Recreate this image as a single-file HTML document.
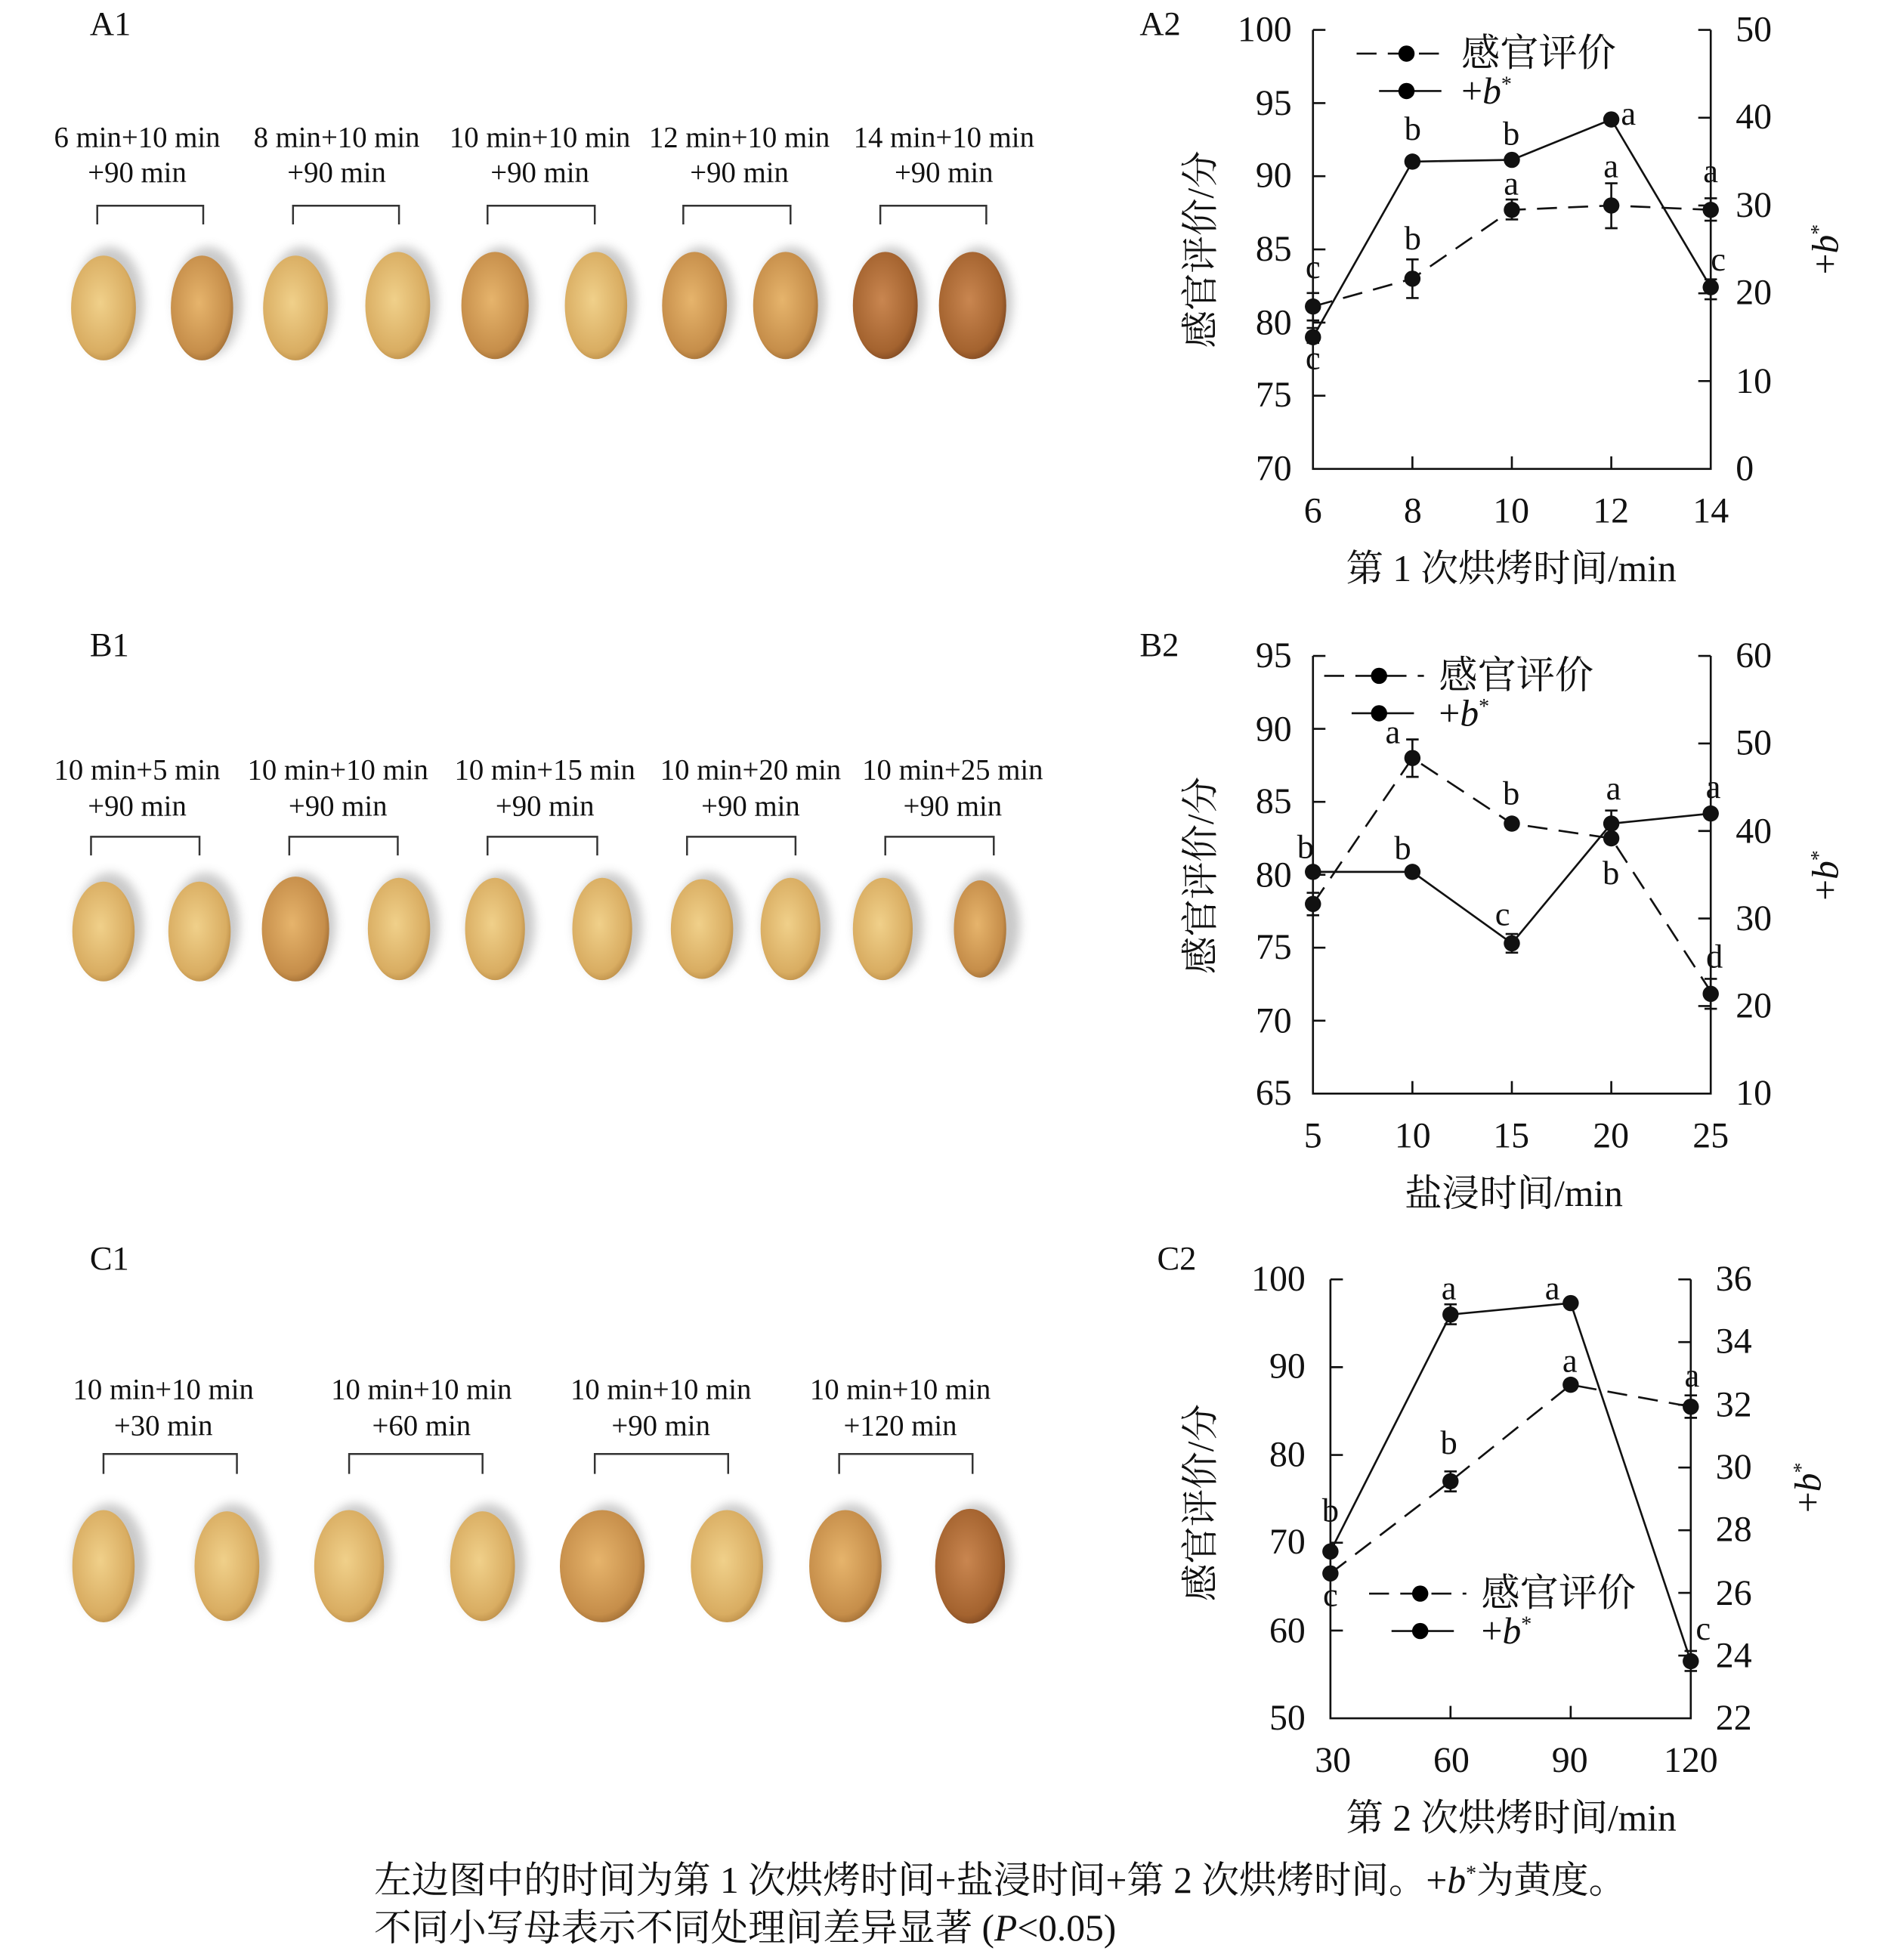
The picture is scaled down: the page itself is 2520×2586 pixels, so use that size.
<!DOCTYPE html>
<html><head><meta charset="utf-8"><style>
html,body{margin:0;padding:0;background:#fff}
svg{display:block}
text{font-family:"Liberation Serif","Noto Serif CJK SC",serif;fill:#111}
</style></head><body>
<svg width="2520" height="2586" viewBox="0 0 1527 1567" preserveAspectRatio="none" xmlns="http://www.w3.org/2000/svg">
<defs>
<radialGradient id="w1" cx="45%" cy="45%" r="60%"><stop offset="0" stop-color="#f0d08a"/><stop offset="0.8" stop-color="#d9ad62"/><stop offset="1" stop-color="#b88a45"/></radialGradient>
<radialGradient id="w2" cx="45%" cy="45%" r="60%"><stop offset="0" stop-color="#e6b46c"/><stop offset="0.8" stop-color="#c68e4a"/><stop offset="1" stop-color="#9c6a32"/></radialGradient>
<radialGradient id="w3" cx="45%" cy="45%" r="60%"><stop offset="0" stop-color="#c98650"/><stop offset="0.8" stop-color="#a4632f"/><stop offset="1" stop-color="#7a4520"/></radialGradient>
<filter id="sh"><feGaussianBlur stdDeviation="4"/></filter>
</defs>

<g font-size="27"><text x="72" y="28">A1</text><text x="72" y="526">B1</text><text x="72" y="1018">C1</text>
<text x="914" y="28">A2</text><text x="914" y="526">B2</text><text x="928" y="1018">C2</text></g>

<g font-size="23.5" text-anchor="middle">
<text x="110" y="118">6 min+10 min</text><text x="110" y="146">+90 min</text>
<text x="270" y="118">8 min+10 min</text><text x="270" y="146">+90 min</text>
<text x="433" y="118">10 min+10 min</text><text x="433" y="146">+90 min</text>
<text x="593" y="118">12 min+10 min</text><text x="593" y="146">+90 min</text>
<text x="757" y="118">14 min+10 min</text><text x="757" y="146">+90 min</text>
</g>
<g fill="none" stroke="#333" stroke-width="1.5">
<path d="M78 180V165H163V180M235 180V165H320V180M391 180V165H477V180M548 180V165H634V180M706 180V165H791V180"/>
<path d="M73 686V671H160V686M232 686V671H319V686M391 686V671H479V686M551 686V671H638V686M710 686V671H797V686"/>
<path d="M83 1182V1166H190V1182M280 1182V1166H387V1182M477 1182V1166H584V1182M673 1182V1166H780V1182"/>
</g>
<g font-size="23.5" text-anchor="middle">
<text x="110" y="625">10 min+5 min</text><text x="110" y="654">+90 min</text>
<text x="271" y="625">10 min+10 min</text><text x="271" y="654">+90 min</text>
<text x="437" y="625">10 min+15 min</text><text x="437" y="654">+90 min</text>
<text x="602" y="625">10 min+20 min</text><text x="602" y="654">+90 min</text>
<text x="764" y="625">10 min+25 min</text><text x="764" y="654">+90 min</text>
<text x="131" y="1122">10 min+10 min</text><text x="131" y="1151">+30 min</text>
<text x="338" y="1122">10 min+10 min</text><text x="338" y="1151">+60 min</text>
<text x="530" y="1122">10 min+10 min</text><text x="530" y="1151">+90 min</text>
<text x="722" y="1122">10 min+10 min</text><text x="722" y="1151">+120 min</text>
</g>
<g>
<g fill="#888" opacity="0.45" filter="url(#sh)">
<ellipse cx="88" cy="242" rx="27" ry="44"/><ellipse cx="167" cy="242" rx="27" ry="44"/><ellipse cx="242" cy="242" rx="27" ry="44"/><ellipse cx="324" cy="242" rx="27" ry="44"/><ellipse cx="402" cy="242" rx="27" ry="44"/><ellipse cx="483" cy="242" rx="27" ry="44"/><ellipse cx="562" cy="242" rx="27" ry="44"/><ellipse cx="635" cy="242" rx="27" ry="44"/><ellipse cx="715" cy="242" rx="27" ry="44"/><ellipse cx="785" cy="242" rx="27" ry="44"/>
<ellipse cx="88" cy="742" rx="27" ry="42"/><ellipse cx="165" cy="742" rx="27" ry="42"/><ellipse cx="242" cy="742" rx="27" ry="42"/><ellipse cx="325" cy="742" rx="27" ry="42"/><ellipse cx="402" cy="742" rx="27" ry="42"/><ellipse cx="488" cy="742" rx="27" ry="42"/><ellipse cx="568" cy="742" rx="27" ry="42"/><ellipse cx="639" cy="742" rx="27" ry="42"/><ellipse cx="713" cy="742" rx="27" ry="42"/><ellipse cx="791" cy="742" rx="27" ry="42"/>
<ellipse cx="88" cy="1252" rx="29" ry="46"/><ellipse cx="187" cy="1252" rx="29" ry="46"/><ellipse cx="285" cy="1252" rx="29" ry="46"/><ellipse cx="392" cy="1252" rx="29" ry="46"/><ellipse cx="488" cy="1252" rx="29" ry="46"/><ellipse cx="588" cy="1252" rx="29" ry="46"/><ellipse cx="683" cy="1252" rx="29" ry="46"/><ellipse cx="783" cy="1252" rx="29" ry="46"/>
</g>
<ellipse cx="83" cy="247" rx="26" ry="42" fill="url(#w1)"/><ellipse cx="162" cy="247" rx="25" ry="42" fill="url(#w2)"/><ellipse cx="237" cy="247" rx="26" ry="42" fill="url(#w1)"/><ellipse cx="319" cy="245" rx="26" ry="43" fill="url(#w1)"/><ellipse cx="397" cy="245" rx="27" ry="43" fill="url(#w2)"/><ellipse cx="478" cy="245" rx="25" ry="43" fill="url(#w1)"/><ellipse cx="557" cy="245" rx="26" ry="43" fill="url(#w2)"/><ellipse cx="630" cy="245" rx="26" ry="43" fill="url(#w2)"/><ellipse cx="710" cy="245" rx="26" ry="43" fill="url(#w3)"/><ellipse cx="780" cy="245" rx="27" ry="43" fill="url(#w3)"/>
<ellipse cx="83" cy="747" rx="25" ry="40" fill="url(#w1)"/><ellipse cx="160" cy="747" rx="25" ry="40" fill="url(#w1)"/><ellipse cx="237" cy="745" rx="27" ry="42" fill="url(#w2)"/><ellipse cx="320" cy="745" rx="25" ry="41" fill="url(#w1)"/><ellipse cx="397" cy="745" rx="24" ry="41" fill="url(#w1)"/><ellipse cx="483" cy="745" rx="24" ry="41" fill="url(#w1)"/><ellipse cx="563" cy="745" rx="25" ry="40" fill="url(#w1)"/><ellipse cx="634" cy="745" rx="24" ry="41" fill="url(#w1)"/><ellipse cx="708" cy="745" rx="24" ry="41" fill="url(#w1)"/><ellipse cx="786" cy="745" rx="21" ry="39" fill="url(#w2)"/>
<ellipse cx="83" cy="1256" rx="25" ry="45" fill="url(#w1)"/><ellipse cx="182" cy="1256" rx="26" ry="44" fill="url(#w1)"/><ellipse cx="280" cy="1256" rx="28" ry="45" fill="url(#w1)"/><ellipse cx="387" cy="1256" rx="26" ry="44" fill="url(#w1)"/><ellipse cx="483" cy="1256" rx="34" ry="45" fill="url(#w2)"/><ellipse cx="583" cy="1256" rx="29" ry="45" fill="url(#w1)"/><ellipse cx="678" cy="1256" rx="29" ry="45" fill="url(#w2)"/><ellipse cx="778" cy="1256" rx="28" ry="46" fill="url(#w3)"/>
</g>

<!-- A2 -->
<g stroke="#111" stroke-width="1.6" fill="none">
<path d="M1053 24V376H1372V24"/>
<path d="M1053 24h10M1053 82.7h10M1053 141.3h10M1053 200h10M1053 258.7h10M1053 317.3h10"/>
<path d="M1372 24h-10M1372 94.4h-10M1372 164.8h-10M1372 235.2h-10M1372 305.6h-10"/>
<path d="M1132.75 376v-10M1212.5 376v-10M1292.25 376v-10"/>
<path d="M1053 245.8L1132.75 223.5L1212.5 168.3L1292.25 164.8L1372 168.3" stroke-dasharray="16,9"/>
<path d="M1053 270.4L1132.75 129.6L1212.5 128.2L1292.25 95.8L1372 230.3"/>
<path d="M1053 235v22M1048 235h10M1048 257h10M1132.75 208v31M1127.75 208h10M1127.75 239h10M1212.5 160v16M1207.5 160h10M1207.5 176h10M1292.25 147v36M1287.25 147h10M1287.25 183h10M1372 159v18M1367 159h10M1367 177h10M1372 224v16M1367 224h10M1367 240h10M1053 263v12M1048 263h10M1048 275h10"/>
</g>
<g fill="#111"><circle cx="1053" cy="245.8" r="6.5"/><circle cx="1132.75" cy="223.5" r="6.5"/><circle cx="1212.5" cy="168.3" r="6.5"/><circle cx="1292.25" cy="164.8" r="6.5"/><circle cx="1372" cy="168.3" r="6.5"/>
<circle cx="1053" cy="270.4" r="6.5"/><circle cx="1132.75" cy="129.6" r="6.5"/><circle cx="1212.5" cy="128.2" r="6.5"/><circle cx="1292.25" cy="95.8" r="6.5"/><circle cx="1372" cy="230.3" r="6.5"/></g>
<g font-size="29" text-anchor="end"><text x="1036" y="33">100</text><text x="1036" y="92">95</text><text x="1036" y="150">90</text><text x="1036" y="209">85</text><text x="1036" y="268">80</text><text x="1036" y="326">75</text><text x="1036" y="385">70</text></g>
<g font-size="29"><text x="1392" y="33">50</text><text x="1392" y="103">40</text><text x="1392" y="174">30</text><text x="1392" y="244">20</text><text x="1392" y="315">10</text><text x="1392" y="385">0</text></g>
<g font-size="29" text-anchor="middle"><text x="1053" y="419">6</text><text x="1133" y="419">8</text><text x="1212" y="419">10</text><text x="1292" y="419">12</text><text x="1372" y="419">14</text>
<text x="1212" y="466" font-size="30">第 1 次烘烤时间/min</text></g>
<text transform="translate(973 200) rotate(-90)" font-size="30" text-anchor="middle">感官评价/分</text>
<text transform="translate(1474 200) rotate(-90)" font-size="30" text-anchor="middle">+<tspan font-style="italic">b</tspan><tspan font-size="17" dy="-10">*</tspan></text>
<g font-size="27" text-anchor="middle"><text x="1053" y="223">c</text><text x="1053" y="296">c</text><text x="1133" y="112">b</text><text x="1133" y="200">b</text><text x="1212" y="116">b</text><text x="1212" y="156">a</text><text x="1292" y="142">a</text><text x="1306" y="100">a</text><text x="1372" y="146">a</text><text x="1378" y="217">c</text></g>
<g stroke="#111" stroke-width="1.6"><path d="M1088 43H1160" stroke-dasharray="16,9"/><path d="M1106 73H1156"/></g>
<circle cx="1128" cy="43" r="6.5"/><circle cx="1128" cy="73" r="6.5"/>
<text x="1172" y="53" font-size="31">感官评价</text><text x="1172" y="83" font-size="30">+<tspan font-style="italic">b</tspan><tspan font-size="17" dy="-10">*</tspan></text>

<!-- B2 -->
<g stroke="#111" stroke-width="1.6" fill="none">
<path d="M1053 526V877H1372V526"/>
<path d="M1053 526h10M1053 584.5h10M1053 643h10M1053 701.5h10M1053 760h10M1053 818.5h10"/>
<path d="M1372 526h-10M1372 596.2h-10M1372 666.4h-10M1372 736.6h-10M1372 806.8h-10"/>
<path d="M1132.75 877v-10M1212.5 877v-10M1292.25 877v-10"/>
<path d="M1053 724.9L1132.75 607.9L1212.5 660.5L1292.25 672.3L1372 795.1" stroke-dasharray="16,9"/>
<path d="M1053 699.2L1132.75 699.2L1212.5 756.5L1292.25 660.5L1372 652.4"/>
<path d="M1053 716v18M1048 716h10M1048 734h10M1132.75 593v30M1127.75 593h10M1127.75 623h10M1212.5 749v15M1207.5 749h10M1207.5 764h10M1292.25 650v22M1287.25 650h10M1287.25 672h10M1372 785v24M1367 785h10M1367 809h10"/>
</g>
<g fill="#111"><circle cx="1053" cy="724.9" r="6.5"/><circle cx="1132.75" cy="607.9" r="6.5"/><circle cx="1212.5" cy="660.5" r="6.5"/><circle cx="1292.25" cy="672.3" r="6.5"/><circle cx="1372" cy="797" r="6.5"/>
<circle cx="1053" cy="699.2" r="6.5"/><circle cx="1132.75" cy="699.2" r="6.5"/><circle cx="1212.5" cy="756.5" r="6.5"/><circle cx="1292.25" cy="660.5" r="6.5"/><circle cx="1372" cy="652.4" r="6.5"/></g>
<g font-size="29" text-anchor="end"><text x="1036" y="535">95</text><text x="1036" y="594">90</text><text x="1036" y="652">85</text><text x="1036" y="711">80</text><text x="1036" y="769">75</text><text x="1036" y="828">70</text><text x="1036" y="886">65</text></g>
<g font-size="29"><text x="1392" y="535">60</text><text x="1392" y="605">50</text><text x="1392" y="676">40</text><text x="1392" y="746">30</text><text x="1392" y="816">20</text><text x="1392" y="886">10</text></g>
<g font-size="29" text-anchor="middle"><text x="1053" y="920">5</text><text x="1133" y="920">10</text><text x="1212" y="920">15</text><text x="1292" y="920">20</text><text x="1372" y="920">25</text>
<text x="1214" y="967" font-size="30">盐浸时间/min</text></g>
<text transform="translate(973 702) rotate(-90)" font-size="30" text-anchor="middle">感官评价/分</text>
<text transform="translate(1474 702) rotate(-90)" font-size="30" text-anchor="middle">+<tspan font-style="italic">b</tspan><tspan font-size="17" dy="-10">*</tspan></text>
<g font-size="27" text-anchor="middle"><text x="1047" y="688">b</text><text x="1117" y="596">a</text><text x="1125" y="689">b</text><text x="1212" y="645">b</text><text x="1205" y="742">c</text><text x="1294" y="641">a</text><text x="1292" y="709">b</text><text x="1374" y="640">a</text><text x="1375" y="776">d</text></g>
<g stroke="#111" stroke-width="1.6"><path d="M1062 542H1142" stroke-dasharray="16,9"/><path d="M1084 572H1134"/></g>
<circle cx="1106" cy="542" r="6.5"/><circle cx="1106" cy="572" r="6.5"/>
<text x="1154" y="552" font-size="31">感官评价</text><text x="1154" y="582" font-size="30">+<tspan font-style="italic">b</tspan><tspan font-size="17" dy="-10">*</tspan></text>

<!-- C2 -->
<g stroke="#111" stroke-width="1.6" fill="none">
<path d="M1067 1026V1378H1356V1026"/>
<path d="M1067 1026h10M1067 1096.4h10M1067 1166.8h10M1067 1237.2h10M1067 1307.6h10"/>
<path d="M1356 1026h-10M1356 1076.3h-10M1356 1126.6h-10M1356 1176.9h-10M1356 1227.2h-10M1356 1277.4h-10M1356 1327.7h-10"/>
<path d="M1163.3 1378v-10M1259.7 1378v-10"/>
<path d="M1067 1261.8L1163.3 1187.9L1259.7 1110.5L1356 1128.1" stroke-dasharray="16,9"/>
<path d="M1067 1244.2L1163.3 1054.2L1259.7 1045L1356 1332.2"/>
<path d="M1163.3 1180v16M1158.3 1180h10M1158.3 1196h10M1356 1119v18M1351 1119h10M1351 1137h10M1163.3 1046v16M1158.3 1046h10M1158.3 1062h10M1356 1324v16M1351 1324h10M1351 1340h10"/>
</g>
<g fill="#111"><circle cx="1067" cy="1261.8" r="6.5"/><circle cx="1163.3" cy="1187.9" r="6.5"/><circle cx="1259.7" cy="1110.5" r="6.5"/><circle cx="1356" cy="1128.1" r="6.5"/>
<circle cx="1067" cy="1244.2" r="6.5"/><circle cx="1163.3" cy="1054.2" r="6.5"/><circle cx="1259.7" cy="1045" r="6.5"/><circle cx="1356" cy="1332.2" r="6.5"/></g>
<g font-size="29" text-anchor="end"><text x="1047" y="1035">100</text><text x="1047" y="1105">90</text><text x="1047" y="1176">80</text><text x="1047" y="1246">70</text><text x="1047" y="1317">60</text><text x="1047" y="1387">50</text></g>
<g font-size="29"><text x="1376" y="1035">36</text><text x="1376" y="1085">34</text><text x="1376" y="1136">32</text><text x="1376" y="1186">30</text><text x="1376" y="1236">28</text><text x="1376" y="1287">26</text><text x="1376" y="1337">24</text><text x="1376" y="1387">22</text></g>
<g font-size="29" text-anchor="middle"><text x="1069" y="1421">30</text><text x="1164" y="1421">60</text><text x="1259" y="1421">90</text><text x="1356" y="1421">120</text>
<text x="1212" y="1468" font-size="30">第 2 次烘烤时间/min</text></g>
<text transform="translate(973 1205) rotate(-90)" font-size="30" text-anchor="middle">感官评价/分</text>
<text transform="translate(1460 1193) rotate(-90)" font-size="30" text-anchor="middle">+<tspan font-style="italic">b</tspan><tspan font-size="17" dy="-10">*</tspan></text>
<g font-size="27" text-anchor="middle"><text x="1067" y="1220">b</text><text x="1067" y="1288">c</text><text x="1162" y="1042">a</text><text x="1162" y="1166">b</text><text x="1245" y="1042">a</text><text x="1259" y="1100">a</text><text x="1357" y="1112">a</text><text x="1366" y="1315">c</text></g>
<g stroke="#111" stroke-width="1.6"><path d="M1098 1278H1176" stroke-dasharray="16,9"/><path d="M1116 1308H1166"/></g>
<circle cx="1139" cy="1278" r="6.5"/><circle cx="1139" cy="1308" r="6.5"/>
<text x="1188" y="1288" font-size="31">感官评价</text><text x="1188" y="1318" font-size="30">+<tspan font-style="italic">b</tspan><tspan font-size="17" dy="-10">*</tspan></text>

<g font-size="30">
<text x="300" y="1518">左边图中的时间为第 1 次烘烤时间+盐浸时间+第 2 次烘烤时间。+<tspan font-style="italic">b</tspan><tspan font-size="17" dy="-10">*</tspan><tspan dy="10">为黄度。</tspan></text>
<text x="300" y="1556">不同小写母表示不同处理间差异显著 (<tspan font-style="italic">P</tspan>&lt;0.05)</text>
</g>
</svg>
</body></html>
